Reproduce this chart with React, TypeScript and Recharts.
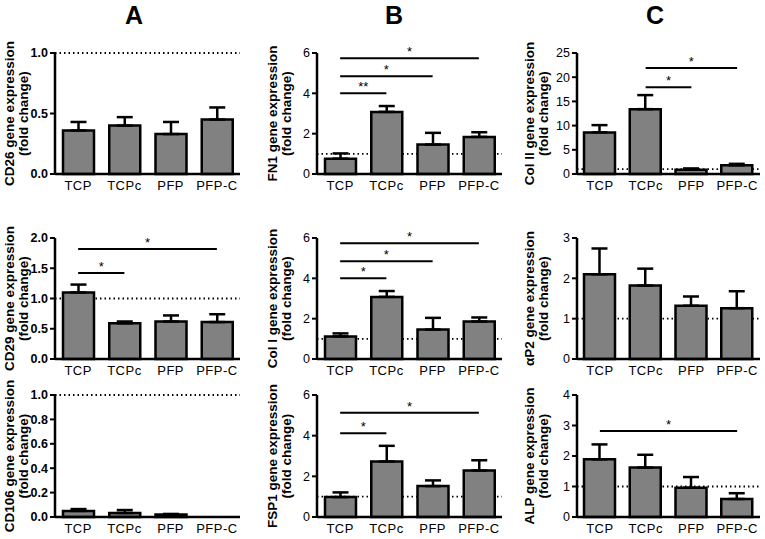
import { BarChart, Bar, XAxis, YAxis, ErrorBar, ReferenceLine } from "recharts";

const FONT = '"Liberation Sans", Arial, sans-serif';

const groups = ["TCP", "TCPc", "PFP", "PFP-C"];

// column A
const cd26Mean = [0.36, 0.4, 0.33, 0.45];
const cd26Sem = [0.07, 0.07, 0.1, 0.1];
const cd29Mean = [1.1, 0.59, 0.62, 0.61];
const cd29Sem = [0.13, 0.03, 0.1, 0.13];
const cd106Mean = [0.05, 0.033, 0.02, null];
const cd106Sem = [0.015, 0.024, 0.005, 0];

// column B
const fn1Mean = [0.76, 3.08, 1.46, 1.84];
const fn1Sem = [0.26, 0.29, 0.58, 0.23];
const col1Mean = [1.12, 3.08, 1.46, 1.86];
const col1Sem = [0.15, 0.29, 0.58, 0.2];
const fsp1Mean = [0.98, 2.73, 1.52, 2.29];
const fsp1Sem = [0.23, 0.77, 0.28, 0.5];

// column C
const col2Mean = [8.6, 13.4, 0.9, 1.8];
const col2Sem = [1.5, 2.9, 0.25, 0.3];
const ap2Mean = [2.1, 1.82, 1.32, 1.26];
const ap2Sem = [0.64, 0.42, 0.23, 0.42];
const alpMean = [1.89, 1.62, 0.96, 0.59];
const alpSem = [0.49, 0.42, 0.35, 0.19];

const ticksCd26 = [0, 0.5, 1];
const ticksCd29 = [0, 0.5, 1, 1.5, 2];
const ticksCd106 = [0, 0.2, 0.4, 0.6, 0.8, 1];
const ticksB = [0, 2, 4, 6];
const ticksCol2 = [0, 5, 10, 15, 20, 25];
const ticksAp2 = [0, 1, 2, 3];
const ticksAlp = [0, 1, 2, 3, 4];

type Sig = [string, string, number, string];
const cd29Sig: Sig[] = [["TCP", "TCPc", 1.42, "*"], ["TCP", "PFP-C", 1.82, "*"]];
const fn1Sig: Sig[] = [["TCP", "TCPc", 4.0, "**"], ["TCP", "PFP", 4.85, "*"], ["TCP", "PFP-C", 5.74, "*"]];
const col1Sig: Sig[] = [["TCP", "TCPc", 4.0, "*"], ["TCP", "PFP", 4.85, "*"], ["TCP", "PFP-C", 5.74, "*"]];
const fsp1Sig: Sig[] = [["TCP", "TCPc", 4.12, "*"], ["TCP", "PFP-C", 5.13, "*"]];
const col2Sig: Sig[] = [["TCPc", "PFP", 17.9, "*"], ["TCPc", "PFP-C", 21.9, "*"]];
const alpSig: Sig[] = [["TCP", "PFP-C", 2.82, "*"]];

const rows = (mean: (number | null)[], sem: number[]) =>
  groups.map((g, i) => ({ group: g, mean: mean[i], err: [0, sem[i]] }));

type PanelProps = {
  left: number;
  top: number;
  width: number;
  plotH: number;
  yWidth: number;
  right: number;
  mean: (number | null)[];
  sem: number[];
  ticks: number[];
  decimals: number;
  boldTicks?: boolean;
  title: string;
  labelX: [number, number];
  sig?: Sig[];
};

function YTitle({ viewBox, title, labelX }: any) {
  const cy = viewBox.y + viewBox.height / 2;
  return (
    <g fontFamily={FONT} fontSize={13.5} fontWeight="bold" fill="#000">
      <text x={labelX[0]} y={cy} textAnchor="middle" dominantBaseline="central" transform={`rotate(-90, ${labelX[0]}, ${cy})`}>
        {title}
      </text>
      <text x={labelX[1]} y={cy} textAnchor="middle" dominantBaseline="central" transform={`rotate(-90, ${labelX[1]}, ${cy})`}>
        (fold change)
      </text>
    </g>
  );
}

function Panel(p: PanelProps) {
  const top = 23;
  const xh = 22;
  const max = p.ticks[p.ticks.length - 1];
  return (
    <div style={{ position: "absolute", left: p.left, top: p.top - top }}>
      <BarChart
        width={p.width}
        height={top + p.plotH + xh}
        data={rows(p.mean, p.sem)}
        margin={{ top, right: p.right, left: 0, bottom: 0 }}
      >
        <XAxis
          dataKey="group"
          height={xh}
          tickLine={false}
          axisLine={{ stroke: "#000", strokeWidth: 2.5 }}
          tick={{ fontSize: 13, fill: "#000", fontFamily: FONT, letterSpacing: 0.5 }}
          tickMargin={1}
        />
        <YAxis
          width={p.yWidth}
          domain={[0, max]}
          ticks={p.ticks}
          interval={0}
          tickSize={5}
          tickLine={{ stroke: "#000", strokeWidth: 2 }}
          axisLine={{ stroke: "#000", strokeWidth: 2.5 }}
          tick={{ fontSize: 12.5, fill: "#000", fontFamily: FONT, fontWeight: p.boldTicks ? "bold" : "normal" }}
          tickFormatter={(v: number) => v.toFixed(p.decimals)}
          label={{ content: (props: any) => <YTitle {...props} title={p.title} labelX={p.labelX} /> }}
        />
        <ReferenceLine y={1} stroke="#000" strokeWidth={1.8} strokeDasharray="1.5 3" zIndex={100} />
        <Bar dataKey="mean" fill="#818181" stroke="#000" strokeWidth={2.5} barSize={31} isAnimationActive={false}>
          <ErrorBar dataKey="err" direction="y" width={8} stroke="#000" strokeWidth={2.5} />
        </Bar>
        {(p.sig ?? []).map(([a, b, y, s]) => (
          <ReferenceLine
            key={`${a}-${b}`}
            segment={[{ x: a, y }, { x: b, y }]}
            stroke="#000"
            strokeWidth={2}
            label={{ value: s, position: "top", offset: 2, fontSize: 13, fill: "#000", fontFamily: FONT }}
          />
        ))}
      </BarChart>
    </div>
  );
}

const headStyle = {
  position: "absolute" as const,
  top: 1,
  fontFamily: FONT,
  fontWeight: "bold",
  fontSize: 25,
  width: 40,
  textAlign: "center" as const,
};

export default function App() {
  return (
    <div style={{ position: "absolute", left: 0, top: 0, width: 765, height: 539, background: "#fff", overflow: "hidden" }}>
      <div style={{ ...headStyle, left: 114 }}>A</div>
      <div style={{ ...headStyle, left: 374 }}>B</div>
      <div style={{ ...headStyle, left: 635 }}>C</div>

      <Panel left={0} top={53} width={250} plotH={121} yWidth={55} right={10} mean={cd26Mean} sem={cd26Sem} ticks={ticksCd26} decimals={1} boldTicks title="CD26 gene expression" labelX={[9, 23]} />
      <Panel left={0} top={238} width={250} plotH={121} yWidth={55} right={10} mean={cd29Mean} sem={cd29Sem} ticks={ticksCd29} decimals={1} boldTicks title="CD29 gene expression" labelX={[9, 23]} sig={cd29Sig} />
      <Panel left={0} top={395} width={250} plotH={122} yWidth={55} right={10} mean={cd106Mean} sem={cd106Sem} ticks={ticksCd106} decimals={1} boldTicks title="CD106 gene expression" labelX={[9, 23]} />

      <Panel left={255} top={53} width={250} plotH={121} yWidth={62} right={3} mean={fn1Mean} sem={fn1Sem} ticks={ticksB} decimals={0} title="FN1 gene expression" labelX={[17, 31]} sig={fn1Sig} />
      <Panel left={255} top={238} width={250} plotH={121} yWidth={62} right={3} mean={col1Mean} sem={col1Sem} ticks={ticksB} decimals={0} title="Col I gene expression" labelX={[17, 31]} sig={col1Sig} />
      <Panel left={255} top={395} width={250} plotH={122} yWidth={62} right={3} mean={fsp1Mean} sem={fsp1Sem} ticks={ticksB} decimals={0} title="FSP1 gene expression" labelX={[17, 31]} sig={fsp1Sig} />

      <Panel left={510} top={53} width={255} plotH={121} yWidth={67} right={5} mean={col2Mean} sem={col2Sem} ticks={ticksCol2} decimals={0} title="Col II gene expression" labelX={[19, 33]} sig={col2Sig} />
      <Panel left={510} top={238} width={255} plotH={121} yWidth={67} right={5} mean={ap2Mean} sem={ap2Sem} ticks={ticksAp2} decimals={0} title="αP2 gene expression" labelX={[19, 33]} />
      <Panel left={510} top={395} width={255} plotH={122} yWidth={67} right={5} mean={alpMean} sem={alpSem} ticks={ticksAlp} decimals={0} title="ALP gene expression" labelX={[19, 33]} sig={alpSig} />
    </div>
  );
}
